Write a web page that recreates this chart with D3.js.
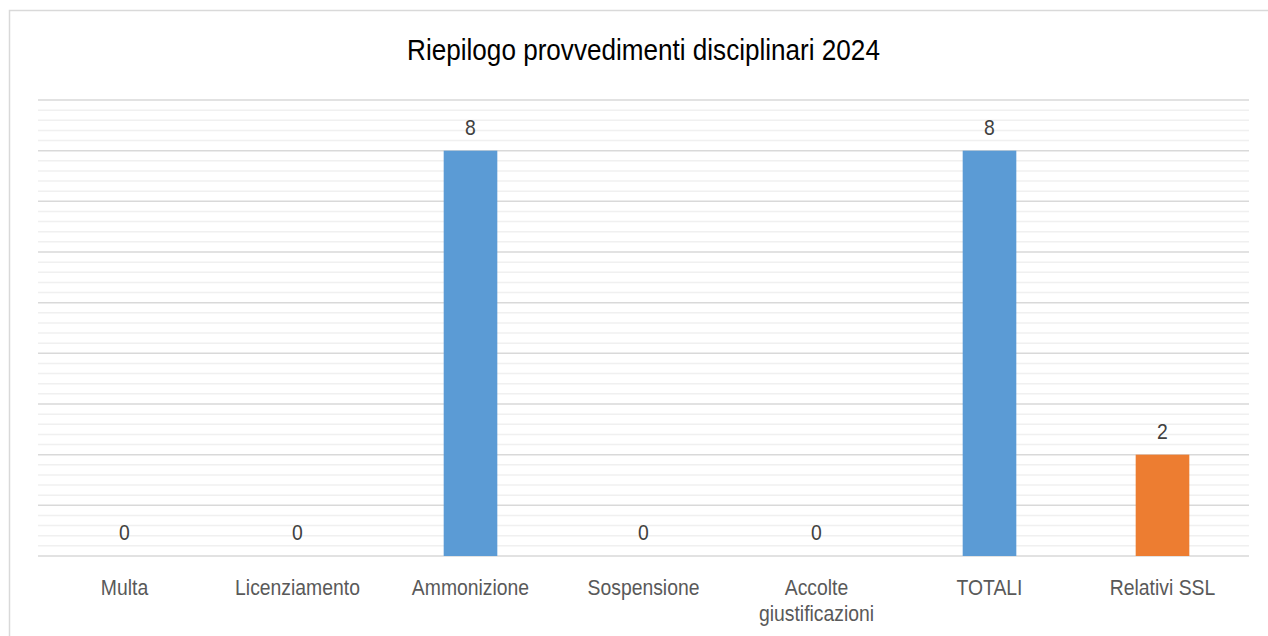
<!DOCTYPE html>
<html>
<head>
<meta charset="utf-8">
<script src="https://cdn.jsdelivr.net/npm/d3@7"></script>
<style>
  body { margin: 0; background: #fff; }
  text { font-family: "Liberation Sans", Arial, sans-serif; }
</style>
</head>
<body>
<div id="chart"></div>
<script>
// data
const categories = ["Multa", "Licenziamento", "Ammonizione", "Sospensione", "Accolte giustificazioni", "TOTALI", "Relativi SSL"];
const values = [0, 0, 8, 0, 0, 8, 2];
const barColors = ["#5B9BD5", "#5B9BD5", "#5B9BD5", "#5B9BD5", "#5B9BD5", "#5B9BD5", "#ED7D31"];
const yMax = 9;

const width = 1268, height = 636;
const plotLeft = 38, plotRight = 1249, plotTop = 100, plotBottom = 556;
const narrow = 0.88; // the original font is a condensed Arial

const svg = d3.select("#chart").append("svg")
    .attr("width", width)
    .attr("height", height);

// chart border
svg.append("rect")
    .attr("x", 9.5).attr("y", 10.5)
    .attr("width", 1270).attr("height", 640)
    .attr("fill", "#fff")
    .attr("stroke", "#d9d9d9")
    .attr("stroke-width", 1.5);

const x = d3.scaleBand()
    .domain(categories)
    .range([plotLeft, plotRight])
    .paddingInner(0.69)
    .paddingOuter(0.345);

const y = d3.scaleLinear()
    .domain([0, yMax])
    .range([plotBottom, plotTop]);

// minor gridlines
svg.append("g").selectAll("line")
    .data(d3.range(0, yMax * 5 + 1).map(d => d / 5).filter(d => Math.abs(d - Math.round(d)) > 1e-6))
    .join("line")
    .attr("x1", plotLeft).attr("x2", plotRight)
    .attr("y1", d => y(d)).attr("y2", d => y(d))
    .attr("stroke", "#f0f0f0")
    .attr("stroke-width", 1.5);

// major gridlines
svg.append("g").selectAll("line")
    .data(d3.range(0, yMax + 1))
    .join("line")
    .attr("x1", plotLeft).attr("x2", plotRight)
    .attr("y1", d => y(d)).attr("y2", d => y(d))
    .attr("stroke", "#d9d9d9")
    .attr("stroke-width", 1.5);

// bars
svg.append("g").selectAll("rect")
    .data(values)
    .join("rect")
    .attr("x", (d, i) => x(categories[i]))
    .attr("y", d => y(d))
    .attr("width", x.bandwidth())
    .attr("height", d => y(0) - y(d))
    .attr("fill", (d, i) => barColors[i]);

// value labels
svg.append("g").selectAll("text")
    .data(values)
    .join("text")
    .attr("transform", (d, i) => `translate(${x(categories[i]) + x.bandwidth() / 2},${y(d) - 16}) scale(${narrow},1)`)
    .attr("text-anchor", "middle")
    .attr("fill", "#404040")
    .style("font-size", "22px")
    .text(d => d);

// category labels (wrap the long two-word label)
const catG = svg.append("g").selectAll("text")
    .data(categories)
    .join("text")
    .attr("transform", d => `translate(${x(d) + x.bandwidth() / 2},595) scale(${narrow},1)`)
    .attr("text-anchor", "middle")
    .attr("fill", "#595959")
    .style("font-size", "22px");

catG.each(function(d) {
    const lines = d === "Accolte giustificazioni" ? d.split(" ") : [d];
    const t = d3.select(this);
    lines.forEach((l, i) => {
        t.append("tspan")
            .attr("x", 0)
            .attr("dy", i === 0 ? 0 : 26)
            .text(l);
    });
});

// title
svg.append("text")
    .attr("transform", `translate(643.5,60) scale(0.9,1)`)
    .attr("text-anchor", "middle")
    .attr("fill", "#000")
    .style("font-size", "29px")
    .text("Riepilogo provvedimenti disciplinari 2024");
</script>
</body>
</html>
